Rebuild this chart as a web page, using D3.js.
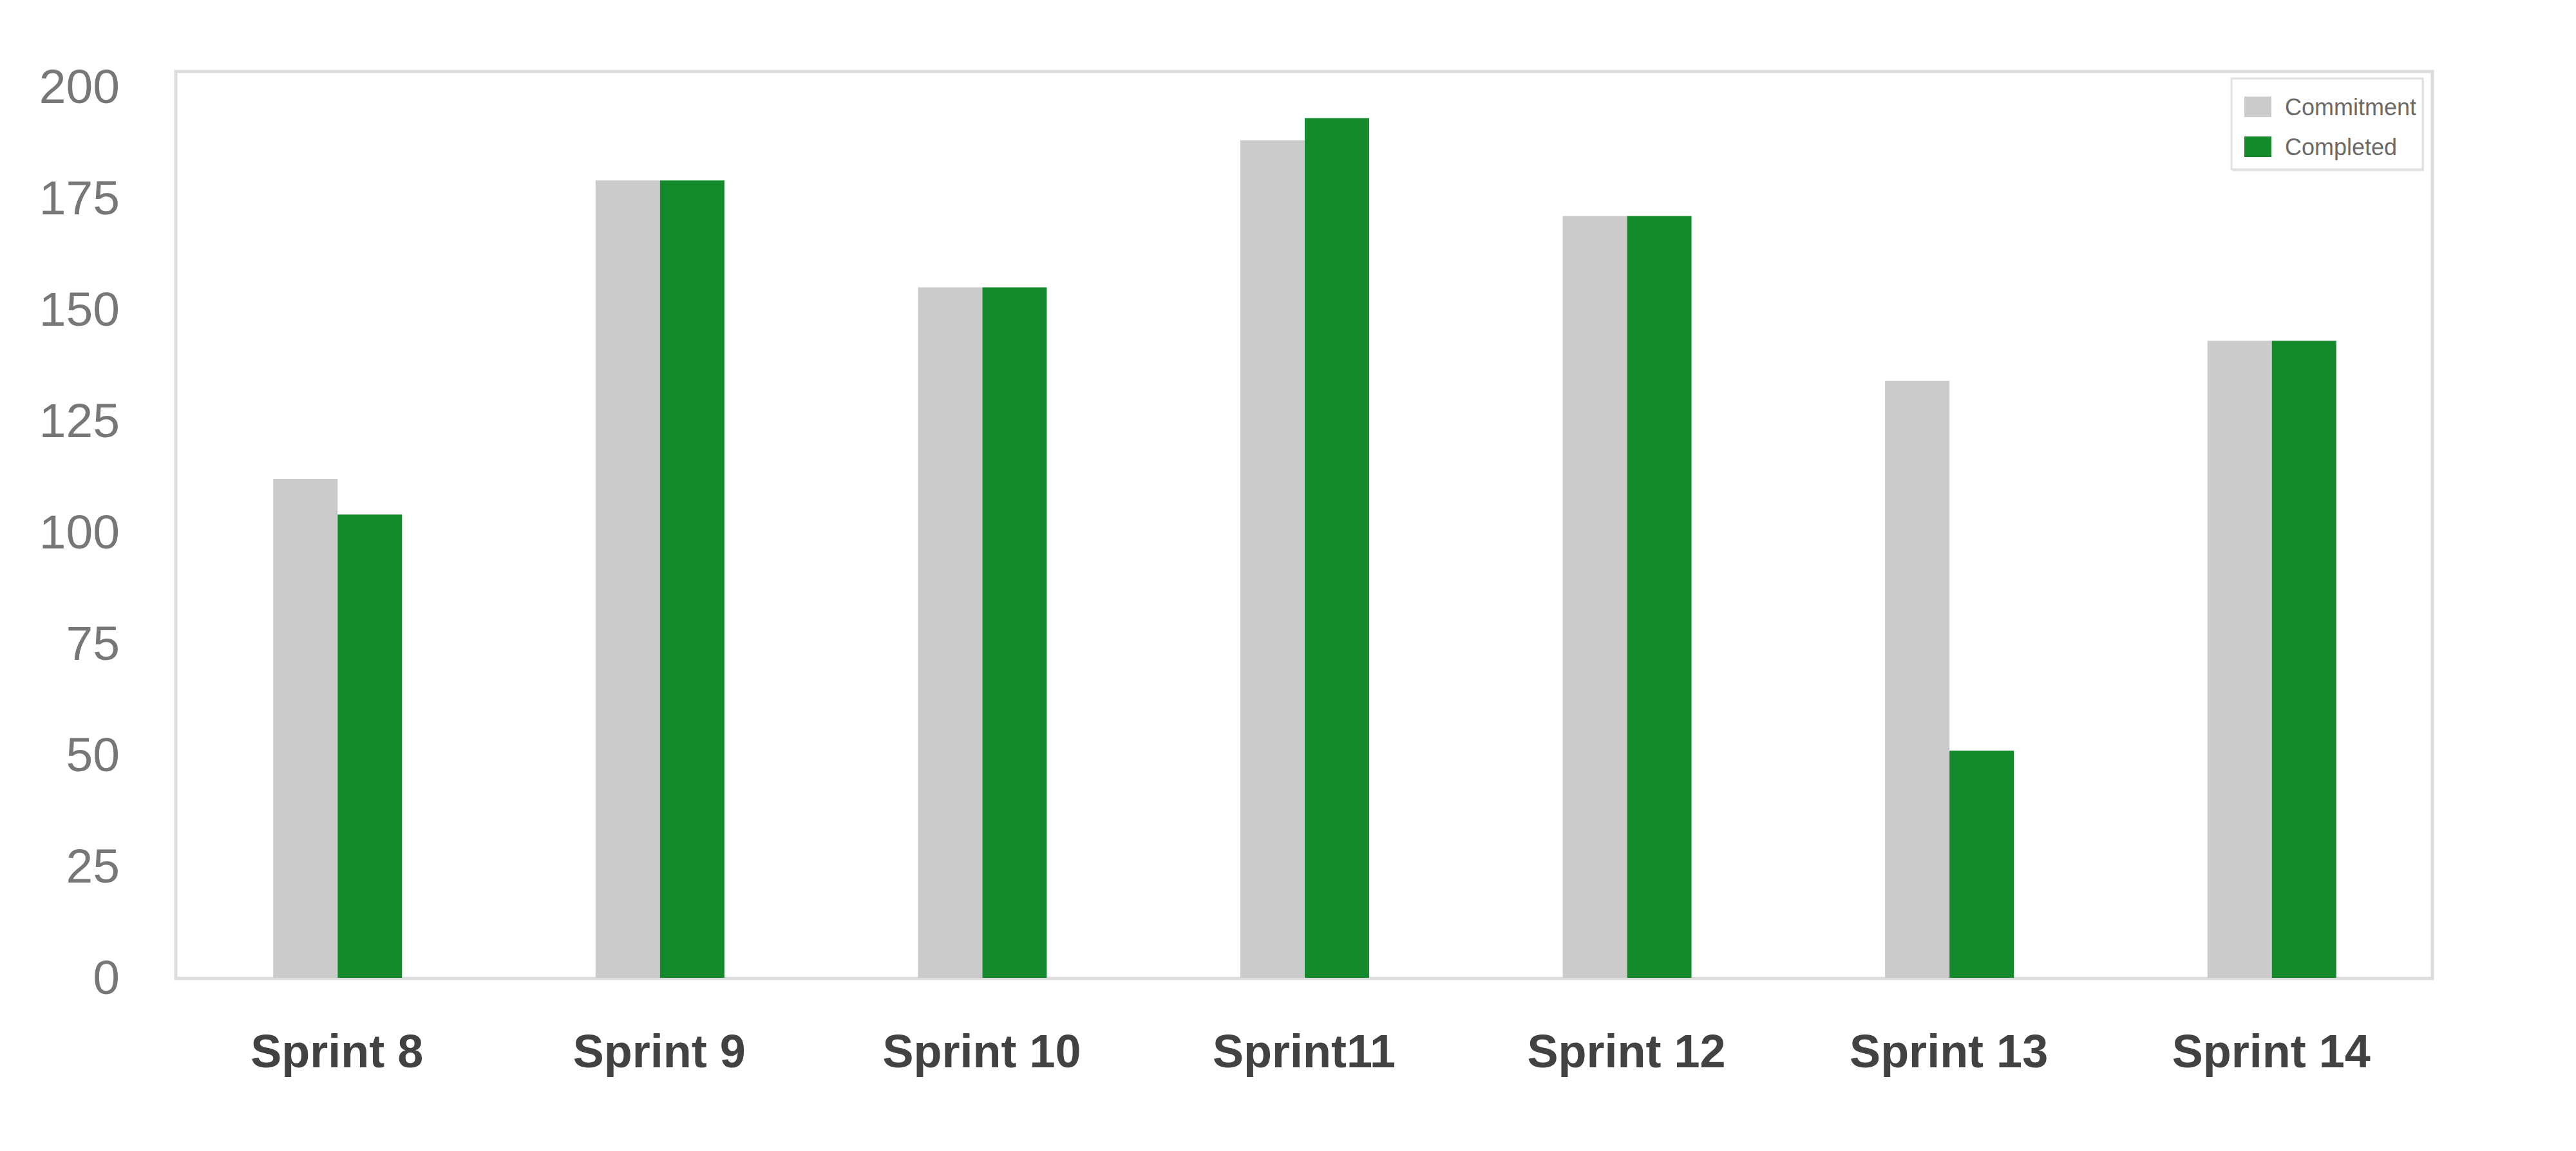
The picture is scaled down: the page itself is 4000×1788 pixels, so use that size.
<!DOCTYPE html>
<html>
<head>
<meta charset="utf-8">
<script src="https://cdn.jsdelivr.net/npm/d3@7"></script>
<style>
  html, body { margin: 0; padding: 0; background: #fff; }
  svg { display: block; font-family: "Liberation Sans", Arial, sans-serif; }
</style>
</head>
<body>
<div id="chart"></div>
<script>
// data
const sprints = ['Sprint 8', 'Sprint 9', 'Sprint 10', 'Sprint11', 'Sprint 12', 'Sprint 13', 'Sprint 14'];
const seriesNames = ['Commitment', 'Completed'];
const commitment = [112, 179, 155, 188, 171, 134, 143];
const completed = [104, 179, 155, 193, 171, 51, 143];
const yTicks = [0, 25, 50, 75, 100, 125, 150, 175, 200];
const seriesColors = ['#cbcbcb', '#158a2c'];

const width = 4000, height = 1788;
const frame = { left: 273, right: 3777, top: 111, bottom: 1520 };

const svg = d3.select('#chart')
    .append('svg')
    .attr('width', width)
    .attr('height', height);

svg.append('rect')
    .attr('width', width)
    .attr('height', height)
    .attr('fill', '#fff');

const y = d3.scaleLinear()
    .domain([0, 200])
    .range([1519, 135]);

const x0 = d3.scaleBand()
    .domain(sprints)
    .range([frame.left, frame.right]);

const x1 = d3.scaleBand()
    .domain(seriesNames)
    .range([x0.bandwidth() / 2 - 99, x0.bandwidth() / 2 + 101]);

// plot frame
svg.append('rect')
    .attr('x', frame.left)
    .attr('y', frame.top)
    .attr('width', frame.right - frame.left)
    .attr('height', frame.bottom - frame.top)
    .attr('fill', 'none')
    .attr('stroke', '#dcdcdc')
    .attr('stroke-width', 5);

const rows = sprints.map((s, i) => ({ sprint: s, values: [commitment[i], completed[i]] }));

const groups = svg.selectAll('g.group')
    .data(rows)
    .enter()
    .append('g')
    .attr('class', 'group')
    .attr('transform', d => `translate(${x0(d.sprint)},0)`);

groups.selectAll('rect')
    .data(d => d.values.map((v, k) => ({ key: seriesNames[k], value: v, k })))
    .enter()
    .append('rect')
    .attr('x', d => x1(d.key))
    .attr('y', d => y(d.value))
    .attr('width', x1.bandwidth())
    .attr('height', d => y(0) - y(d.value))
    .attr('fill', d => seriesColors[d.k]);

// Y axis
const yAxis = svg.append('g')
    .attr('transform', `translate(${frame.left},0)`)
    .call(d3.axisLeft(y).tickValues(yTicks).tickSize(0).tickPadding(87));
yAxis.select('.domain').remove();
yAxis.selectAll('text')
    .style('font-size', '75px')
    .attr('fill', '#777');

// X axis
const xAxis = svg.append('g')
    .attr('transform', `translate(0,${frame.bottom})`)
    .call(d3.axisBottom(x0).tickSize(0).tickPadding(87));
xAxis.select('.domain').remove();
xAxis.selectAll('text')
    .style('font-size', '72px')
    .style('font-weight', 'bold')
    .attr('fill', '#424242');

// legend
const legend = svg.append('g')
    .attr('transform', 'translate(3465,122)');

legend.append('rect')
    .attr('x', 2)
    .attr('y', 3)
    .attr('width', 297)
    .attr('height', 141)
    .attr('fill', '#e6e6e6');

legend.append('rect')
    .attr('width', 297)
    .attr('height', 141)
    .attr('fill', '#fff')
    .attr('stroke', '#e0e0e0')
    .attr('stroke-width', 3);

const items = legend.selectAll('g.item')
    .data(seriesNames)
    .enter()
    .append('g')
    .attr('class', 'item')
    .attr('transform', (d, i) => `translate(20,${40 + i * 62})`);

items.append('rect')
    .attr('x', 0)
    .attr('y', -12)
    .attr('width', 42)
    .attr('height', 32)
    .attr('fill', (d, i) => seriesColors[i]);

items.append('text')
    .attr('x', 63)
    .attr('y', 4)
    .attr('dy', '0.35em')
    .style('font-size', '36px')
    .attr('fill', '#6a6a6a')
    .text(d => d);
</script>
</body>
</html>
